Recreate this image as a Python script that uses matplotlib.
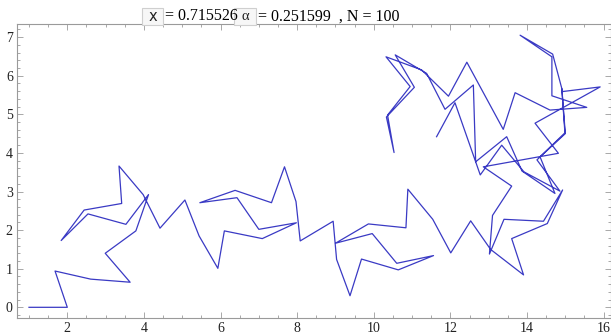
import matplotlib.pyplot as plt
from matplotlib.patches import Rectangle
from matplotlib.ticker import MultipleLocator

# walk coordinates
xs = [1.00, 2.00, 1.68, 2.61, 3.64, 2.99, 3.79, 4.12, 3.53, 2.54,
      1.84, 2.44, 3.42, 3.35, 3.98, 4.42, 5.07, 5.44, 5.93, 6.10,
      7.09, 7.98, 7.00, 6.43, 5.46, 6.38, 7.33, 7.67, 7.97, 8.08,
      8.94, 9.03, 9.38, 9.68, 10.64, 11.56, 10.60, 9.96, 9.00, 9.86,
      10.84, 10.89, 11.54, 12.01, 12.53, 13.05, 13.91, 13.60, 14.53, 14.93,
      14.43, 13.40, 13.02, 13.10, 13.60, 12.86, 14.82, 14.21, 15.91, 14.93,
      14.67, 13.82, 14.65, 14.65, 15.56, 14.60, 13.69, 13.38, 12.43, 11.95,
      11.25, 10.32, 10.95, 10.36, 10.53, 10.33, 11.06, 10.56, 11.38, 11.86,
      12.60, 12.66, 13.47, 13.87, 14.73, 14.34, 14.99, 14.91, 15.00, 14.26,
      14.86, 13.92, 13.34, 12.78, 12.12, 11.64]
ys = [0.00, 0.00, 0.94, 0.73, 0.65, 1.40, 1.98, 2.92, 2.15, 2.42,
      1.73, 2.52, 2.69, 3.66, 2.92, 2.05, 2.78, 1.85, 1.01, 1.98,
      1.78, 2.19, 2.02, 2.84, 2.71, 3.03, 2.71, 3.64, 2.74, 1.72,
      2.23, 1.24, 0.30, 1.25, 0.97, 1.34, 1.14, 1.91, 1.66, 2.16,
      2.06, 3.06, 2.28, 1.41, 2.24, 1.50, 0.84, 1.78, 2.17, 3.04,
      2.23, 2.28, 1.38, 2.38, 3.14, 3.64, 3.99, 4.77, 5.71, 5.59,
      6.56, 7.05, 6.49, 5.48, 5.18, 5.11, 5.56, 4.61, 6.35, 5.47,
      6.15, 6.49, 5.72, 4.98, 4.01, 4.93, 5.70, 6.54, 6.06, 5.13,
      5.76, 3.77, 4.42, 3.53, 2.95, 3.90, 4.52, 5.66, 4.50, 3.82,
      3.01, 3.51, 4.20, 3.43, 5.30, 4.42]

xbar = "0.715526"
alpha = "0.251599"
n_pts = "100"

plt.rcParams['font.family'] = ['Liberation Serif', 'DejaVu Serif']

fig = plt.figure(figsize=(6.11, 3.36), dpi=100)
ax = fig.add_axes([17/611, 1 - 318/336, 593.5/611, 294/336])

ax.plot(xs, ys, color='#3a3ac4', lw=0.9)

ax.set_xlim(0.687, 16.18)
ax.set_ylim(-0.277, 7.34)

ax.xaxis.set_major_locator(MultipleLocator(2))
ax.xaxis.set_minor_locator(MultipleLocator(0.5))
ax.yaxis.set_major_locator(MultipleLocator(1))
ax.yaxis.set_minor_locator(MultipleLocator(0.2))

frame = '#9a9a9a'
for s in ax.spines.values():
    s.set_color(frame)
    s.set_linewidth(0.8)
ax.tick_params(which='both', direction='in', top=True, right=True,
               color=frame, width=0.6, labelsize=10, labelcolor='#222222')
ax.tick_params(which='major', length=4)
ax.tick_params(which='minor', length=2)
ax.tick_params(axis='x', pad=3)
ax.tick_params(axis='y', pad=3)

# title built from pieces: boxed controls and plain text
def box_label(x0, w, s, family):
    fig.patches.append(Rectangle((x0/611, 1 - 25/336), w/611, 17/336,
                                 transform=fig.transFigure, facecolor='#f7f7f7',
                                 edgecolor='#cfcfcf', lw=0.8))
    fig.text((x0 + w/2)/611, 1 - 16.5/336, s, ha='center', va='center',
             fontsize=10.5, family=family, color='#222222')

box_label(142, 21, 'x', ['DejaVu Sans'])
fig.text(165/611, 1 - 16.5/336, '= ' + xbar, ha='left', va='center', fontsize=11.5)
box_label(234, 22, 'α', ['Liberation Serif'])
fig.text(258/611, 1 - 16.5/336, '= ' + alpha + '  , N = ' + n_pts,
         ha='left', va='center', fontsize=11.5)

fig.savefig('out.png', dpi=100)
